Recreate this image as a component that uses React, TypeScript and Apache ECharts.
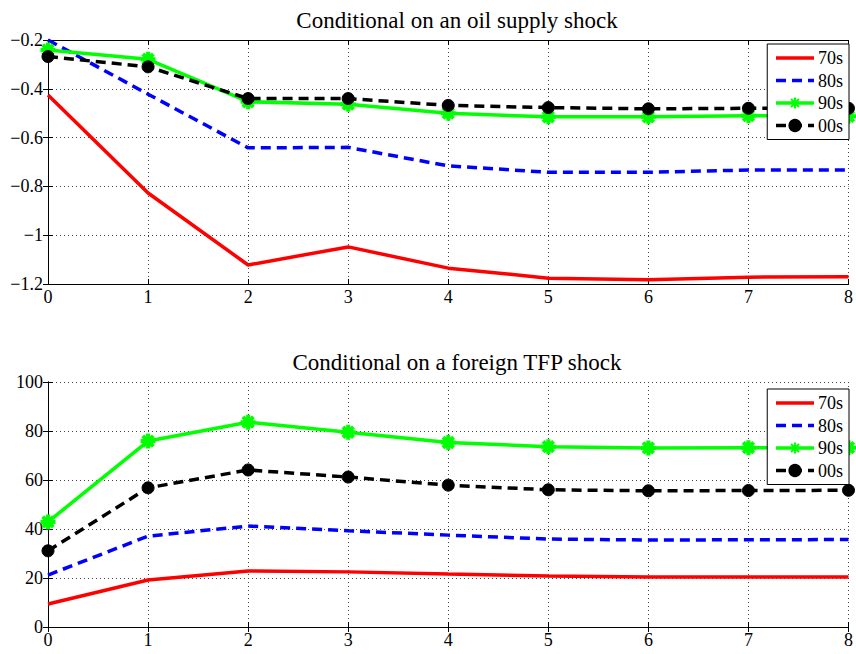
import React, { useEffect, useRef } from "react";
import * as echarts from "echarts";

const horizons = [0, 1, 2, 3, 4, 5, 6, 7, 8];
const seriesNames = ["70s", "80s", "90s", "00s"];

const oil70s = [-0.425, -0.827, -1.122, -1.048, -1.135, -1.176, -1.183, -1.172, -1.17];
const oil80s = [-0.2, -0.422, -0.642, -0.64, -0.716, -0.742, -0.742, -0.733, -0.733];
const oil90s = [-0.241, -0.279, -0.453, -0.463, -0.5, -0.515, -0.515, -0.51, -0.513];
const oil00s = [-0.268, -0.31, -0.44, -0.44, -0.468, -0.477, -0.482, -0.48, -0.48];

const tfp70s = [9.4, 19.2, 22.9, 22.5, 21.6, 20.8, 20.4, 20.4, 20.4];
const tfp80s = [21.2, 37.1, 41.2, 39.3, 37.5, 35.9, 35.5, 35.6, 35.7];
const tfp90s = [42.9, 75.9, 83.6, 79.5, 75.3, 73.6, 73.1, 73.2, 73.2];
const tfp00s = [31.1, 56.8, 64.1, 61.2, 57.9, 56.0, 55.6, 55.7, 55.8];

const titles = ["Conditional on an oil supply shock", "Conditional on a foreign TFP shock"];

const FONT = "Liberation Serif";
const STAR = "path://M0,-10L0,10M-10,0L10,0M-7,-7L7,7M-7,7L7,-7";

function pairs(vals: number[]) {
  return horizons.map((h, i) => [h, vals[i]]);
}

function fmtNum(v: number) {
  const s = String(Math.round(v * 1000) / 1000);
  return s.replace("-", "\u2212");
}

export default function App() {
  const ref = useRef<HTMLDivElement>(null);
  useEffect(() => {
    if (!ref.current) return;
    const chart = echarts.init(ref.current, null, { renderer: "svg" });
    const grids = [
      { left: 48, top: 40, width: 808, height: 244 },
      { left: 48, top: 382, width: 808, height: 245 },
    ];
    const yRanges = [
      { min: -1.2, max: -0.2, interval: 0.2 },
      { min: 0, max: 100, interval: 20 },
    ];
    const gridLine = { show: true, lineStyle: { color: "#444", type: [1, 3] as any, width: 1 } };
    const axisLine = { show: true, lineStyle: { color: "#000", width: 1 } };
    const tick = { show: true, inside: true, length: 5, lineStyle: { color: "#000" } };
    const xAxis: any[] = [];
    const yAxis: any[] = [];
    [0, 1].forEach((g) => {
      xAxis.push({
        type: "value", gridIndex: g, min: 0, max: 8, interval: 1,
        axisLine, axisTick: tick,
        axisLabel: { fontFamily: FONT, fontSize: 18, color: "#000", margin: 4 },
        splitLine: gridLine,
      });
      xAxis.push({
        type: "value", gridIndex: g, position: "top", min: 0, max: 8, interval: 1,
        axisLine, axisTick: tick, axisLabel: { show: false }, splitLine: { show: false },
      });
      yAxis.push({
        type: "value", gridIndex: g, ...yRanges[g],
        axisLine, axisTick: tick,
        axisLabel: { fontFamily: FONT, fontSize: 18, color: "#000", margin: 5, formatter: fmtNum },
        splitLine: gridLine,
      });
      yAxis.push({
        type: "value", gridIndex: g, position: "right", ...yRanges[g],
        axisLine, axisTick: tick, axisLabel: { show: false }, splitLine: { show: false },
      });
    });

    const styles = [
      { color: "#ff0000", type: "solid", symbol: "none", size: 0, show: false },
      { color: "#0000ff", type: [10, 6], symbol: "none", size: 0, show: false },
      { color: "#00ff00", type: "solid", symbol: STAR, size: 15, show: true },
      { color: "#000000", type: [10, 6], symbol: "circle", size: 12, show: true },
    ];
    const dataSets = [
      [oil70s, oil80s, oil90s, oil00s],
      [tfp70s, tfp80s, tfp90s, tfp00s],
    ];
    const series: any[] = [];
    [0, 1].forEach((g) => {
      dataSets[g].forEach((vals, k) => {
        const st = styles[k];
        const isStar = k === 2;
        series.push({
          type: "line",
          name: seriesNames[k],
          xAxisIndex: g * 2,
          yAxisIndex: g * 2,
          data: pairs(vals),
          symbol: st.symbol,
          symbolSize: st.size,
          showSymbol: st.show,
          clip: false,
          lineStyle: { color: st.color, width: 3.5, type: st.type },
          itemStyle: isStar
            ? { color: st.color, borderColor: st.color, borderWidth: 4 }
            : { color: st.color, borderColor: st.color, borderWidth: 1 },
          z: 2 + k,
        });
      });
    });

    const legendData = seriesNames.map((n, k) =>
      styles[k].show
        ? { name: n, lineStyle: { width: 3.5 } }
        : { name: n, itemStyle: { opacity: 0 }, lineStyle: { width: 3.5 } }
    );

    const legends = [44, 389].map((top) => ({
      data: legendData,
      orient: "vertical",
      right: 7,
      top,
      itemWidth: 38,
      itemHeight: 14,
      itemGap: 4.5,
      padding: [5, 6, 5, 7],
      backgroundColor: "#fff",
      borderColor: "#000",
      borderWidth: 1,
      borderRadius: 0,
      textStyle: { fontFamily: FONT, fontSize: 18, color: "#000", padding: [0, 0, 0, -1] },
      selectedMode: false,
      z: 10,
    }));

    chart.setOption({
      animation: false,
      backgroundColor: "#fff",
      title: [
        { text: titles[0], left: 452, top: 4, textAlign: "center", textStyle: { fontFamily: FONT, fontSize: 23, fontWeight: "normal", color: "#000" } },
        { text: titles[1], left: 452, top: 346, textAlign: "center", textStyle: { fontFamily: FONT, fontSize: 23, fontWeight: "normal", color: "#000" } },
      ],
      grid: grids.map((g) => ({ ...g, show: false })),
      xAxis,
      yAxis,
      legend: legends,
      series,
    });
    return () => chart.dispose();
  }, []);
  return <div ref={ref} style={{ position: "fixed", left: 0, top: 0, width: 856, height: 654 }} />;
}
